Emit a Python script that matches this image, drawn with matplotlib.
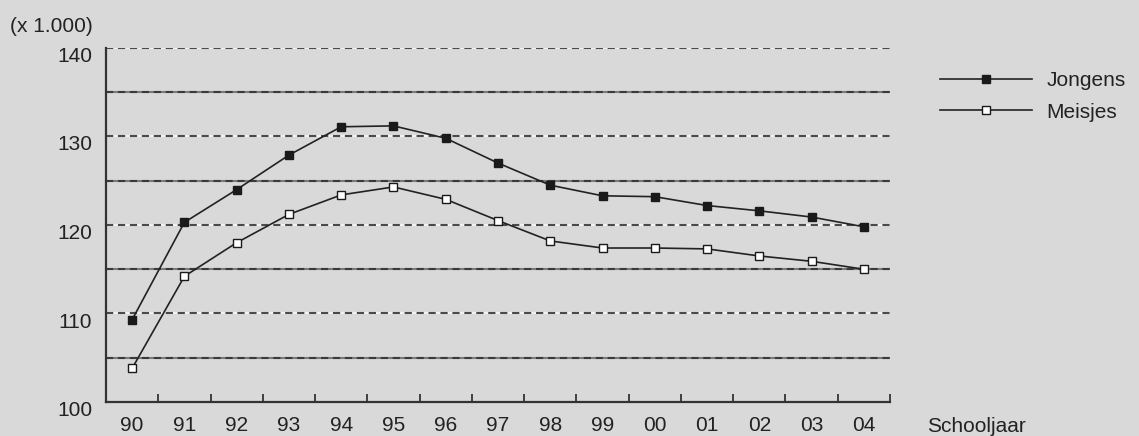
import numpy as np
import matplotlib
matplotlib.use("Agg")
import matplotlib.pyplot as plt
import matplotlib.transforms as mtransforms

plt.rcParams['font.family'] = ['Liberation Sans', 'DejaVu Sans']
plt.rcParams['lines.scale_dashes'] = False

# schooljaren en leerlingen (x 1.000)
jaren = ["90", "91", "92", "93", "94", "95", "96", "97", "98", "99", "00", "01", "02", "03", "04"]
jongens = [109.3, 120.3, 124.0, 127.9, 131.1, 131.2, 129.8, 127.0, 124.5, 123.3, 123.2, 122.2, 121.6, 120.9, 119.8]
meisjes = [103.8, 114.2, 118.0, 121.2, 123.4, 124.3, 122.9, 120.5, 118.2, 117.4, 117.4, 117.3, 116.5, 115.9, 115.0]
yticks = [100, 110, 120, 130, 140]
grid_wit = [110, 120, 130, 140]
grid_grijs = [105, 115, 125, 135]

bg = "#d9d9d9"
ink = "#222222"
fs = 15

fig = plt.figure(figsize=(11.39, 4.36), dpi=100, facecolor=bg)
ax = fig.add_axes([106/1139, 34/436, (890-106)/1139, (402-48)/436])
ax.set_facecolor(bg)

x = np.arange(len(jaren))

for g in grid_wit:
    ax.axhline(g, color="#f2f2f2", lw=1.5, zorder=1)
    ax.axhline(g, color="#4a4a4a", lw=1.5, dashes=(5.2, 3.4), zorder=1.1)
for g in grid_grijs:
    ax.axhline(g, color="#7a7a7a", lw=1.5, zorder=1)
    ax.axhline(g, color="#3a3a3a", lw=1.5, dashes=(5.2, 3.4), zorder=1.1)

ax.plot(x, jongens, color=ink, lw=1.2, marker="s", markersize=6,
        markerfacecolor="#1a1a1a", markeredgecolor="#1a1a1a", label="Jongens", zorder=3)
ax.plot(x, meisjes, color=ink, lw=1.2, marker="s", markersize=6,
        markerfacecolor="white", markeredgecolor="#1a1a1a", markeredgewidth=1.0,
        label="Meisjes", zorder=3)

ax.set_xlim(-0.5, len(jaren) - 0.5)
ax.set_ylim(100, 140)
ax.set_xticks(x)
ax.set_xticklabels(jaren)
ax.set_xticks(np.arange(len(jaren)) + 0.5, minor=True)
ax.set_yticks(yticks)
ax.tick_params(axis="x", which="major", length=0, pad=10, labelsize=fs, labelcolor=ink)
ax.tick_params(axis="x", which="minor", direction="in", length=6, width=1.3, color="#333333")
ax.tick_params(axis="y", length=0, pad=10, labelsize=fs, labelcolor=ink)

# y-labels staan iets onder de lijnen
shift = mtransforms.ScaledTranslation(0, -6.5/100, fig.dpi_scale_trans)
for lab in ax.get_yticklabels():
    lab.set_transform(lab.get_transform() + shift)

for s in ["top", "right"]:
    ax.spines[s].set_visible(False)
for s in ["left", "bottom"]:
    ax.spines[s].set_color("#333333")
    ax.spines[s].set_linewidth(1.6)
    ax.spines[s].set_zorder(4)

fig.text(10/1139, 1 - 26/436, "(x 1.000)", fontsize=fs, color=ink, va="center", ha="left")
fig.text(927/1139, 1 - 426/436, "Schooljaar", fontsize=fs, color=ink, va="center", ha="left")

fig.legend(loc="upper left", bbox_to_anchor=(940/1139, 1 - 71/436), frameon=False,
           fontsize=fs, handlelength=4.4, handletextpad=0.7, labelspacing=0.6,
           borderpad=0, borderaxespad=0, labelcolor=ink)

fig.savefig("out.png", dpi=100, facecolor=bg)
